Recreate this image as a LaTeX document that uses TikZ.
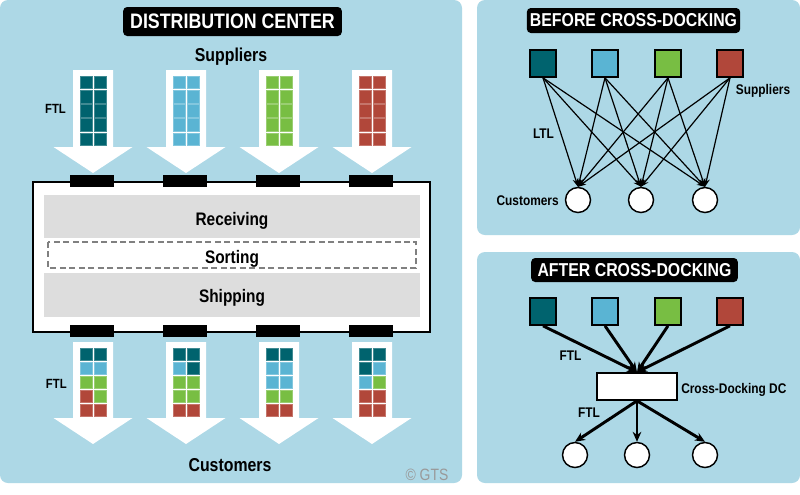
\documentclass[tikz,border=0pt]{standalone}
\usepackage{fontspec}
\setmainfont{Liberation Sans}[FakeStretch=0.85]
\usepackage{xcolor}
\usetikzlibrary{arrows.meta}
\definecolor{panelblue}{HTML}{ADD8E6}
\definecolor{dteal}{HTML}{00636E}
\definecolor{lblue}{HTML}{5AB4D3}
\definecolor{lgreen}{HTML}{78BE43}
\definecolor{dred}{HTML}{B1473A}
\definecolor{band}{HTML}{DDDDDD}

\begin{document}
\begin{tikzpicture}[x=0.75pt, y=-0.75pt,
	panel/.style={fill=panelblue, rounded corners=6pt},
	title/.style={fill=black, text=white, rounded corners=3pt, inner sep=0pt, font=\bfseries\fontsize{14}{16}\selectfont},
	big/.style={font=\bfseries\fontsize{14}{16}\selectfont, inner sep=0pt, anchor=base},
	lbl/.style={font=\bfseries\fontsize{10.5}{12}\selectfont, inner sep=0pt, anchor=base},
	sq/.style={draw, line width=1.5pt, minimum size=20pt, inner sep=0pt},
	cust/.style={circle, draw, fill=white, line width=1.1pt, minimum size=18.75pt, inner sep=0pt},
	ltl/.style={line width=0.9pt, -{Stealth[length=6pt, width=4.5pt]}},
	ftl/.style={line width=2.2pt, -{Stealth[length=7.5pt, width=6.5pt]}}]
	\useasboundingbox (0,0) rectangle (800,494);
	\fill[white] (0,0) rectangle (800,494);
	% panels
	\fill[panel] (0,0) rectangle (462,483);
	\fill[panel] (477,0) rectangle (800,235);
	\fill[panel] (477,252) rectangle (800,483);

	% distribution center
	\node[title, minimum width=164pt, minimum height=21.75pt, font=\bfseries\fontsize{15.7}{18}\selectfont] (dctitle) at (232.5,21.5) {DISTRIBUTION CENTER};
	\node[big] (supl) at (231,61.7) {Suppliers};
	\node[big] (custl) at (230,471.5) {Customers};
	\node[lbl, font=\bfseries\fontsize{10}{12}\selectfont] (ftlin) at (55.5,113.3) {FTL};
	\node[lbl, font=\bfseries\fontsize{10}{12}\selectfont] (ftlout) at (56.3,388.3) {FTL};
	\node[inner sep=0pt, anchor=base, text=black!40, font=\fontsize{12.3}{14}\selectfont] (copy) at (427,480) {© GTS};

	\foreach \cx in {93,186,279,372}{
		\fill[white] (\cx-20,70) -- (\cx+20,70) -- (\cx+20,147) -- (\cx+39.5,147) -- (\cx,173) -- (\cx-39.5,147) -- (\cx-20,147) -- cycle;
		\fill[white] (\cx-20,342) -- (\cx+20,342) -- (\cx+20,418) -- (\cx+39.5,418) -- (\cx,444) -- (\cx-39.5,418) -- (\cx-20,418) -- cycle;
	}
	\foreach \cx/\col in {93/dteal,186/lblue,279/lgreen,372/dred}
		\foreach \r in {0,...,4}
			\foreach \k in {0,1}
				\filldraw[fill=\col, draw=\col!75!white, line width=0.3pt] (\cx-13.3+\k*14,76+\r*14.2) rectangle +(12.6,12.6);
	\foreach \cx/\cols in {93/{dteal,dteal,lblue,lblue,lgreen,lgreen,dred,lgreen,dred,dred},
		186/{dteal,dteal,lblue,dteal,lgreen,lgreen,lgreen,lgreen,dred,dred},
		279/{dteal,dteal,lblue,lblue,lblue,lblue,lgreen,lgreen,dred,dred},
		372/{dteal,dteal,dteal,lblue,lblue,lgreen,dred,dred,dred,dred}}{
		\foreach \col [count=\i from 0] in \cols {
			\pgfmathtruncatemacro\r{int(\i/2)}
			\pgfmathtruncatemacro\k{mod(\i,2)}
			\filldraw[fill=\col, draw=\col!75!white, line width=0.3pt] (\cx-13.3+\k*14,348+\r*14) rectangle +(12.6,12.6);
		}
	}

	% building
	\draw[line width=2.2pt, fill=white] (33,182) rectangle (430,332);
	\fill[band] (44,195) rectangle (420,238);
	\draw[black!50, line width=1pt, dash pattern=on 4.5pt off 2.6pt] (48,242) rectangle (416,268);
	\fill[band] (44,273) rectangle (420,317);
	\foreach \cx in {92,185,278,371}{
		\fill (\cx-22,175) rectangle (\cx+22,187);
		\fill (\cx-22,325) rectangle (\cx+22,337);
	}
	\node[big, font=\bfseries\fontsize{13.6}{16}\selectfont] (recv) at (232,225) {Receiving};
	\node[big, font=\bfseries\fontsize{13.6}{16}\selectfont] (sort) at (232,263.3) {Sorting};
	\node[big, font=\bfseries\fontsize{13.6}{16}\selectfont] (ship) at (232,302.3) {Shipping};

	% before cross-docking
	\node[title, minimum width=160pt, minimum height=18.75pt] (bftitle) at (633.5,20.5) {BEFORE CROSS-DOCKING};
	\foreach \x/\col [count=\i] in {543/dteal,605/lblue,668/lgreen,730/dred}{
		\node[sq, fill=\col] (s\i) at (\x,63.5) {};
		\node[sq, fill=\col] (a\i) at (\x,311.5) {};
	}
	\foreach \x [count=\j] in {578,641,705}
		\node[cust] (c\j) at (\x,200) {};
	\foreach \i in {1,...,4}
		\foreach \j in {1,2,3}
			\draw[ltl] (s\i.south) -- (c\j.north);
	\node[lbl] (bfsupl) at (763,94) {Suppliers};
	\node[lbl] (bfltl) at (543.5,138.3) {LTL};
	\node[lbl, anchor=base east] (bfcust) at (559,205) {Customers};

	% after cross-docking
	\node[title, minimum width=155pt, minimum height=18pt] (aftitle) at (634.5,270) {AFTER CROSS-DOCKING};
	\node[draw, fill=white, line width=1.5pt, minimum width=60pt, minimum height=20pt, inner sep=0pt] (dc) at (637,386.5) {};
	\foreach \x [count=\j] in {575,637,705}
		\node[cust] (d\j) at (\x,455) {};
	\foreach \i in {1,...,4}
		\draw[ftl] (a\i.south) -- (dc.north);
	\foreach \j in {1,2,3}
		\draw[ftl] (dc.south) -- (d\j.north);
	\node[lbl, anchor=base west] (dclbl) at (681,393.3) {Cross-Docking DC};
	\node[lbl] (afftlin) at (570.5,360) {FTL};
	\node[lbl] (afftlout) at (589,417.7) {FTL};
\end{tikzpicture}
\end{document}
